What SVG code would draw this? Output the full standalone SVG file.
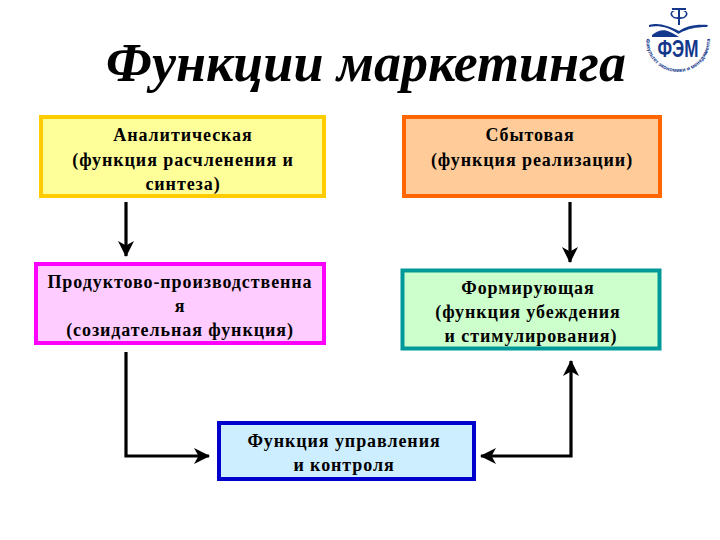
<svg xmlns="http://www.w3.org/2000/svg" width="720" height="540" viewBox="0 0 720 540">
<style>
.t{font-family:"Liberation Serif","Times New Roman",serif;font-weight:bold;font-size:18px;letter-spacing:.92px;fill:#000;text-anchor:middle}
.title{font-family:"Liberation Serif","Times New Roman",serif;font-weight:bold;font-style:italic;font-size:54px;fill:#000;text-anchor:middle}
.box{stroke-width:4}
.c{fill:none;stroke:#000;stroke-width:3.200}
.logo{fill:#14388c}
</style>
<defs>
<marker id="a" markerUnits="userSpaceOnUse" markerWidth="17" markerHeight="17" refX="15" refY="8" orient="auto-start-reverse"><path d="M0 0L16 8L0 16L4.500 8Z" fill="#000"/></marker>
<path id="arc" d="M646 40A32 32 0 0 0 710 40"/>
</defs>
<rect width="720" height="540" fill="#fff"/>
<text class="title" x="366" y="81">Функции маркетинга</text>
<g id="logo">
<path class="logo" d="M672 8h14v2h-6v15h-2V10h-6z"/>
<path class="logo" d="M672 11a7 5 0 0 0 6 8v-2a4 3 0 0 1-3-6zM686 11a7 5 0 0 1-6 8v-2a4 3 0 0 0 3-6z"/>
<path class="logo" d="M649 25c7-2 12-1 18 1 4 1 8 3 12 5 6-4 14-7 29-6l-1 2c-11 0-20 2-27 6-1 1-2 1-3 0-8-5-17-8-28-6z"/>
<path class="logo" d="M652 35c6-5 12-6 18-3 3 1 6 3 9 5H652z"/>
<text x="678" y="57" font-family="Liberation Sans,sans-serif" font-weight="bold" font-size="24" fill="#14388c" text-anchor="middle" textLength="41" lengthAdjust="spacingAndGlyphs">ФЭМ</text>
<text font-family="Liberation Sans,sans-serif" font-size="5.500" font-weight="bold" fill="#14388c" text-anchor="middle"><textPath href="#arc" startOffset="50%">Факультет экономики и менеджмента</textPath></text>
</g>
<g id="connectors">
<path class="c" d="M126 202V256" marker-end="url(#a)"/>
<path class="c" d="M570 202V262" marker-end="url(#a)"/>
<path class="c" d="M126 352V456H209" marker-end="url(#a)"/>
<path class="c" d="M481 456H571V361" marker-start="url(#a)" marker-end="url(#a)"/>
</g>
<g id="analytic"><rect class="box" x="41" y="117" width="283" height="79" fill="#ffff99" stroke="#ffcc00"/>
<text class="t" x="183" y="141">Аналитическая</text><text class="t" x="183" y="166">(функция расчленения и</text><text class="t" x="183" y="190">синтеза)</text></g>
<g id="sales"><rect class="box" x="404" y="117" width="256" height="79" fill="#ffcc99" stroke="#ff6600"/>
<text class="t" x="530" y="141">Сбытовая</text><text class="t" x="532" y="166">(функция реализации)</text></g>
<g id="production"><rect class="box" x="36" y="264" width="288" height="79" fill="#ffccff" stroke="#ff00ff"/>
<text class="t" x="180" y="288">Продуктово-производственна</text><text class="t" x="180" y="312">я</text><text class="t" x="180" y="336">(созидательная функция)</text></g>
<g id="forming"><rect class="box" x="402.500" y="270.500" width="257" height="78" fill="#ccffcc" stroke="#009999"/>
<text class="t" x="528" y="294">Формирующая</text><text class="t" x="528" y="318">(функция убеждения</text><text class="t" x="531" y="342">и стимулирования)</text></g>
<g id="control"><rect class="box" x="219" y="423" width="255" height="56" fill="#cceeff" stroke="#0000cc"/>
<text class="t" x="344" y="447">Функция управления</text><text class="t" x="344" y="471">и контроля</text></g>
</svg>
